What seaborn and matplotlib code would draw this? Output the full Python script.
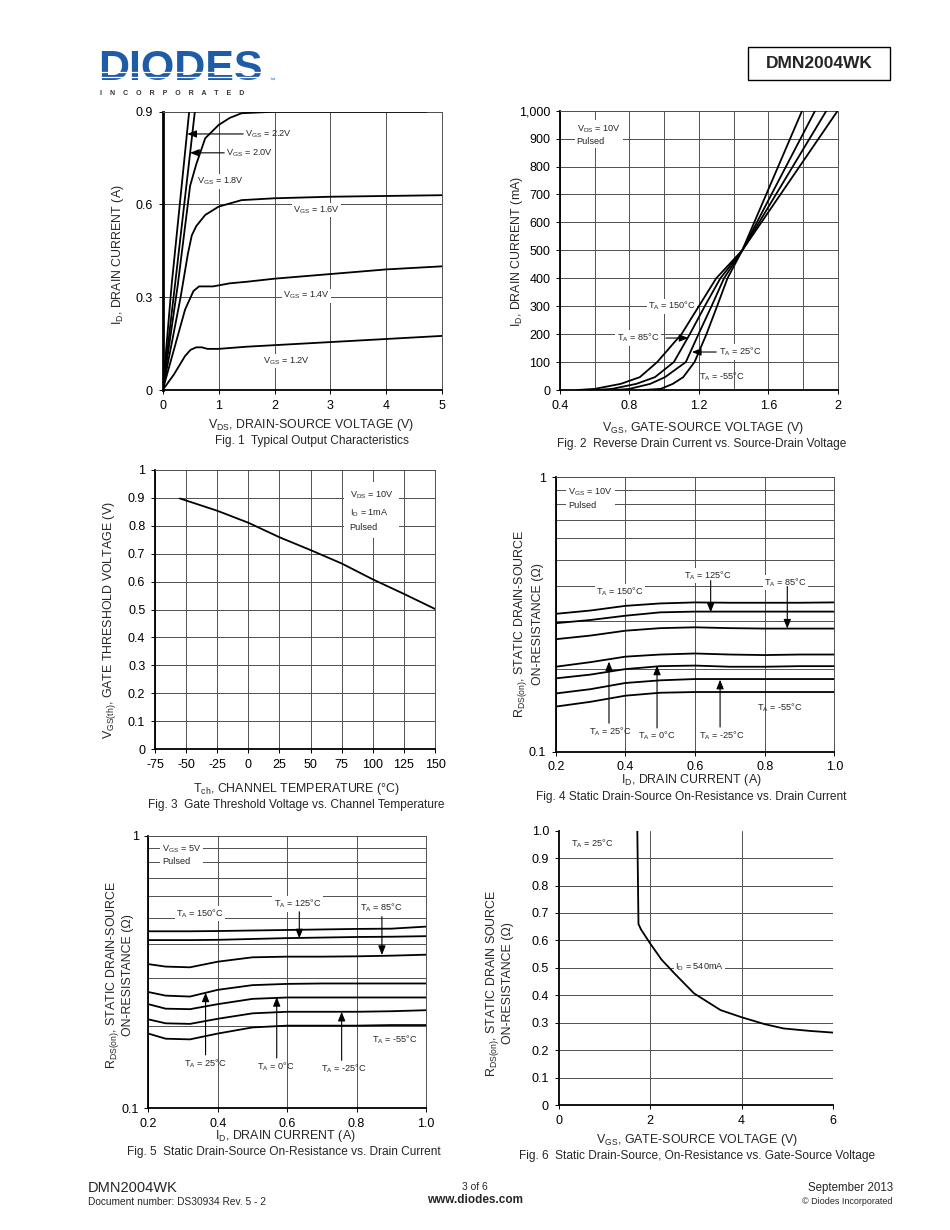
import matplotlib
matplotlib.use("Agg")
import matplotlib.pyplot as plt
import seaborn as sns
import numpy as np
import pandas as pd
from matplotlib.ticker import FixedLocator, NullFormatter

# ---------------- data ----------------
# Fig 1: output characteristics (VDS [V], ID [A])
f1_vds_22 = [0, 0.16, 0.476]
f1_id_22 = [0, 0.34, 0.905]
f1_vds_20 = [0, 0.22, 0.578]
f1_id_20 = [0, 0.34, 0.905]
f1_vds_18 = [0, 0.27, 0.49, 0.6, 0.76, 1.0, 1.2, 1.41, 2.0, 4.72]
f1_id_18 = [0, 0.34, 0.66, 0.73, 0.814, 0.857, 0.88, 0.895, 0.9, 0.9]
f1_vds_16 = [0, 0.32, 0.45, 0.52, 0.6, 0.76, 1.0, 1.41, 2.0, 3.0, 5.0]
f1_id_16 = [0, 0.30, 0.44, 0.50, 0.53, 0.566, 0.593, 0.614, 0.62, 0.625, 0.63]
f1_vds_14 = [0, 0.2, 0.4, 0.55, 0.65, 0.9, 1.2, 1.5, 2.0, 3.0, 4.0, 5.0]
f1_id_14 = [0, 0.13, 0.26, 0.32, 0.335, 0.335, 0.345, 0.35, 0.36, 0.375, 0.39, 0.40]
f1_vds_12 = [0, 0.2, 0.4, 0.5, 0.6, 0.7, 0.8, 1.0, 1.5, 2.0, 3.0, 4.0, 5.0]
f1_id_12 = [0, 0.05, 0.11, 0.13, 0.138, 0.138, 0.133, 0.133, 0.14, 0.145, 0.155, 0.165, 0.175]
f1_labels = ["2.2V", "2.0V", "1.8V", "1.6V", "1.4V", "1.2V"]

# Fig 2: drain current (mA) vs VGS
f2_id = [0, 4, 22, 46, 100, 200, 300, 400, 500, 1000]
f2_vgs_150 = [0.5, 0.6, 0.75, 0.86, 0.96, 1.10, 1.20, 1.30, 1.45, 2.0]
f2_vgs_85 = [0.6, 0.7, 0.84, 0.947, 1.056, 1.148, 1.234, 1.324, 1.45, 1.935]
f2_vgs_25 = [0.72, 0.8, 0.92, 1.005, 1.125, 1.198, 1.273, 1.345, 1.45, 1.87]
f2_vgs_m55 = [0.88, 0.98, 1.05, 1.11, 1.175, 1.244, 1.305, 1.365, 1.45, 1.795]

# Fig 3: gate threshold voltage vs channel temperature
f3_temp = [-55, -25, 0, 25, 50, 75, 100, 125, 150]
f3_vth = [0.898, 0.854, 0.811, 0.759, 0.713, 0.665, 0.608, 0.556, 0.502]

# Fig 4: RDS(on) vs ID, VGS = 10V
f4_id = [0.2, 0.3, 0.4, 0.5, 0.6, 0.7, 0.8, 0.9, 1.0]
f4_r150 = [0.318, 0.327, 0.340, 0.347, 0.350, 0.349, 0.349, 0.349, 0.350]
f4_r125 = [0.294, 0.302, 0.313, 0.322, 0.324, 0.324, 0.324, 0.324, 0.324]
f4_r85 = [0.257, 0.265, 0.276, 0.282, 0.284, 0.282, 0.281, 0.281, 0.281]
f4_r25 = [0.204, 0.212, 0.222, 0.226, 0.228, 0.226, 0.225, 0.226, 0.226]
f4_r0 = [0.185, 0.191, 0.200, 0.205, 0.206, 0.204, 0.204, 0.205, 0.205]
f4_rm25 = [0.163, 0.169, 0.178, 0.182, 0.184, 0.184, 0.184, 0.184, 0.184]
f4_rm55 = [0.146, 0.152, 0.160, 0.164, 0.165, 0.165, 0.165, 0.165, 0.165]

# Fig 5: RDS(on) vs ID, VGS = 5V
f5_id = [0.2, 0.25, 0.32, 0.4, 0.5, 0.6, 0.7, 0.8, 0.9, 1.0]
f5_r150 = [0.446, 0.446, 0.446, 0.447, 0.449, 0.451, 0.453, 0.455, 0.456, 0.464]
f5_r125 = [0.414, 0.414, 0.414, 0.415, 0.418, 0.421, 0.423, 0.425, 0.426, 0.428]
f5_r85 = [0.338, 0.331, 0.329, 0.345, 0.358, 0.360, 0.360, 0.361, 0.363, 0.366]
f5_r25 = [0.267, 0.259, 0.257, 0.272, 0.283, 0.286, 0.287, 0.287, 0.287, 0.287]
f5_r0 = [0.241, 0.232, 0.231, 0.241, 0.252, 0.255, 0.255, 0.255, 0.255, 0.255]
f5_rm25 = [0.212, 0.205, 0.204, 0.213, 0.223, 0.226, 0.226, 0.226, 0.227, 0.229]
f5_rm55 = [0.188, 0.180, 0.179, 0.188, 0.198, 0.201, 0.201, 0.201, 0.202, 0.202]

# Fig 6: RDS(on) vs VGS, ID = 540mA
f6_vgs = [1.72, 1.745, 1.8, 2.0, 2.25, 2.53, 2.96, 3.54, 4.0, 4.5, 4.92, 5.5, 6.0]
f6_r = [1.0, 0.66, 0.64, 0.589, 0.53, 0.48, 0.407, 0.346, 0.32, 0.295, 0.279, 0.27, 0.264]

# ---------------- style ----------------
sns.set_style("ticks")
plt.rcParams["font.family"] = ["Liberation Sans", "DejaVu Sans"]
plt.rcParams["mathtext.fontset"] = "custom"
plt.rcParams["mathtext.rm"] = "Liberation Sans"
plt.rcParams["mathtext.it"] = "Liberation Sans:italic"
plt.rcParams["mathtext.bf"] = "Liberation Sans:bold"
plt.rcParams["axes.unicode_minus"] = False

W, H = 950, 1230
fig = plt.figure(figsize=(W / 100, H / 100), dpi=100)
GRID = "#505050"
TICK_FS = 9
LAB_FS = 8.9
CAP_FS = 8.6
ANN_FS = 6.6


def fx(px):
    return px / W


def fy(py):
    return 1 - py / H


def add_ax(x0, y0, x1, y1):
    return fig.add_axes([x0 / W, 1 - y1 / H, (x1 - x0) / W, (y1 - y0) / H])


def style(ax, frame=True):
    for s in ["left", "bottom"]:
        ax.spines[s].set_color("black")
        ax.spines[s].set_linewidth(1.3)
    for s in ["top", "right"]:
        ax.spines[s].set_visible(frame)
        ax.spines[s].set_color(GRID)
        ax.spines[s].set_linewidth(0.7)
    ax.tick_params(axis="both", which="major", labelsize=TICK_FS, length=3,
                   width=0.7, direction="out", pad=4, colors="black")
    ax.tick_params(axis="both", which="minor", length=0)
    ax.set_xlabel("")
    ax.set_ylabel("")


def curve(ax, x, y):
    sns.lineplot(x=x, y=y, ax=ax, color="black", lw=1.3, sort=False,
                 estimator=None, legend=False, zorder=3)


def label(ax, x, y, s, ha="center", fs=ANN_FS, box=True, va="center"):
    kw = {}
    if box:
        kw["bbox"] = dict(facecolor="white", edgecolor="none", pad=1.0)
    ax.text(x, y, s, ha=ha, va=va, fontsize=fs, zorder=2, **kw)


def arrow(ax, tail, head):
    ax.annotate("", xy=head, xytext=tail,
                arrowprops=dict(arrowstyle="-|>,head_length=0.55,head_width=0.22",
                                color="black", lw=0.8, shrinkA=0, shrinkB=0),
                zorder=6)


def ftext(px, py, s, fs, rot=0, ha="center", va="center", **kw):
    fig.text(fx(px), fy(py), s, fontsize=fs, rotation=rot, ha=ha, va=va,
             multialignment="center", **kw)


# ---------------- Fig 1 ----------------
ax1 = add_ax(162.7, 111.7, 442.3, 390)
for xv, yv in [(f1_vds_22, f1_id_22), (f1_vds_20, f1_id_20), (f1_vds_18, f1_id_18),
               (f1_vds_16, f1_id_16), (f1_vds_14, f1_id_14), (f1_vds_12, f1_id_12)]:
    curve(ax1, xv, yv)
ax1.set_xlim(0, 5)
ax1.set_ylim(0, 0.9)
ax1.set_xticks([0, 1, 2, 3, 4, 5])
ax1.set_yticks([0, 0.3, 0.6, 0.9])
ax1.set_yticklabels(["0", "0.3", "0.6", "0.9"])
ax1.grid(True, color=GRID, lw=0.7)
style(ax1)
ax1.spines["left"].set_linewidth(2.0)
label(ax1, 1.47, 0.828, r"V$_{\mathrm{GS}}$ = " + f1_labels[0], ha="left", box=False)
arrow(ax1, (1.44, 0.828), (0.44, 0.828))
label(ax1, 1.13, 0.767, r"V$_{\mathrm{GS}}$ = " + f1_labels[1], ha="left", box=False)
arrow(ax1, (1.10, 0.767), (0.49, 0.767))
label(ax1, 1.03, 0.674, r"V$_{\mathrm{GS}}$ = " + f1_labels[2])
label(ax1, 2.75, 0.582, r"V$_{\mathrm{GS}}$ = " + f1_labels[3])
label(ax1, 2.57, 0.305, r"V$_{\mathrm{GS}}$ = " + f1_labels[4])
label(ax1, 2.22, 0.094, r"V$_{\mathrm{GS}}$ = " + f1_labels[5])
ftext(118, 255, r"I$_{\mathrm{D}}$, DRAIN CURRENT (A)", LAB_FS, rot=90)
ftext(311, 425, r"V$_{\mathrm{DS}}$, DRAIN-SOURCE VOLTAGE (V)", LAB_FS)
ftext(312, 441, "Fig. 1  Typical Output Characteristics", CAP_FS)

# ---------------- Fig 2 ----------------
ax2 = add_ax(560, 110.7, 837.7, 390)
for xv in [f2_vgs_150, f2_vgs_85, f2_vgs_25, f2_vgs_m55]:
    curve(ax2, xv, f2_id)
ax2.set_xlim(0.4, 2.0)
ax2.set_ylim(0, 1000)
ax2.set_xticks([0.4, 0.8, 1.2, 1.6, 2.0])
ax2.set_xticklabels(["0.4", "0.8", "1.2", "1.6", "2"])
ax2.xaxis.set_minor_locator(FixedLocator([0.6, 1.0, 1.4, 1.8]))
ax2.set_yticks(list(range(0, 1001, 100)))
ax2.set_yticklabels([f"{v:,}" for v in range(0, 1001, 100)])
ax2.grid(True, which="both", color=GRID, lw=0.7)
style(ax2)
ax2.text(0.06, 0.955, r"V$_{\mathrm{DS}}$ = 10V" + "\nPulsed", transform=ax2.transAxes,
         ha="left", va="top", fontsize=ANN_FS, linespacing=1.3, zorder=2,
         bbox=dict(facecolor="white", edgecolor="none", pad=1.5))
label(ax2, 1.045, 300, r"T$_{\mathrm{A}}$ = 150°C")
label(ax2, 0.85, 186, r"T$_{\mathrm{A}}$ = 85°C")
arrow(ax2, (1.01, 186), (1.14, 186))
label(ax2, 1.44, 136, r"T$_{\mathrm{A}}$ = 25°C")
arrow(ax2, (1.30, 136), (1.16, 136))
label(ax2, 1.33, 47, r"T$_{\mathrm{A}}$ = -55°C", box=False)
ftext(517, 252, r"I$_{\mathrm{D}}$, DRAIN CURRENT (mA)", LAB_FS, rot=90)
ftext(703, 428, r"V$_{\mathrm{GS}}$, GATE-SOURCE VOLTAGE (V)", LAB_FS)
ftext(702, 444, "Fig. 2  Reverse Drain Current vs. Source-Drain Voltage", CAP_FS)

# ---------------- Fig 3 ----------------
ax3 = add_ax(155, 470, 435, 749)
curve(ax3, f3_temp, f3_vth)
ax3.set_xlim(-75, 150)
ax3.set_ylim(0, 1)
ax3.set_xticks(list(range(-75, 151, 25)))
ax3.set_yticks([i / 10 for i in range(11)])
ax3.set_yticklabels(["0"] + [f"0.{i}" for i in range(1, 10)] + ["1"])
ax3.grid(True, color=GRID, lw=0.7)
style(ax3)
ax3.text(0.695, 0.93, r"V$_{\mathrm{DS}}$ = 10V" + "\n" + r"I$_{\mathrm{D}}$ = 1mA" + "\nPulsed",
         transform=ax3.transAxes, ha="left", va="top", fontsize=ANN_FS,
         linespacing=1.6, zorder=2,
         bbox=dict(facecolor="white", edgecolor="none", pad=4))
ftext(110, 620, r"V$_{\mathrm{GS(th)}}$, GATE THRESHOLD VOLTAGE (V)", LAB_FS, rot=90)
ftext(296, 789, r"T$_{\mathrm{ch}}$, CHANNEL TEMPERATURE (°C)", LAB_FS)
ftext(296, 805, "Fig. 3  Gate Threshold Voltage vs. Channel Temperature", CAP_FS)


# ---------------- Fig 4 & 5 helpers ----------------
def log_axes(ax):
    ax.set_yscale("log")
    ax.set_ylim(0.1, 1)
    ax.set_xlim(0.2, 1.0)
    ax.set_xticks([0.2, 0.4, 0.6, 0.8, 1.0])
    ax.set_xticklabels(["0.2", "0.4", "0.6", "0.8", "1.0"])
    ax.yaxis.set_major_locator(FixedLocator([0.1, 1]))
    ax.set_yticklabels(["0.1", "1"])
    ax.yaxis.set_minor_locator(FixedLocator([i / 10 for i in range(2, 10)]))
    ax.yaxis.set_minor_formatter(NullFormatter())
    ax.grid(True, which="major", color=GRID, lw=0.7)
    ax.grid(True, which="minor", axis="y", color=GRID, lw=0.7)
    style(ax)


TA = r"T$_{\mathrm{A}}$ = "

# ---------------- Fig 4 ----------------
ax4 = add_ax(555.7, 477.3, 834.3, 751.7)
for rv in [f4_r150, f4_r125, f4_r85, f4_r25, f4_r0, f4_rm25, f4_rm55]:
    curve(ax4, f4_id, rv)
log_axes(ax4)
ax4.text(0.045, 0.965, r"V$_{\mathrm{GS}}$ = 10V" + "\nPulsed", transform=ax4.transAxes,
         ha="left", va="top", fontsize=ANN_FS, linespacing=1.3, zorder=2,
         bbox=dict(facecolor="white", edgecolor="none", pad=1.5))
label(ax4, 0.385, 0.383, TA + "150°C")
label(ax4, 0.638, 0.438, TA + "125°C")
arrow(ax4, (0.645, 0.42), (0.645, 0.322))
label(ax4, 0.86, 0.414, TA + "85°C")
arrow(ax4, (0.865, 0.40), (0.865, 0.281))
label(ax4, 0.356, 0.118, TA + "25°C", box=False)
arrow(ax4, (0.353, 0.127), (0.353, 0.213))
label(ax4, 0.491, 0.114, TA + "0°C", box=False)
arrow(ax4, (0.491, 0.122), (0.491, 0.206))
label(ax4, 0.677, 0.114, TA + "-25°C", box=False)
arrow(ax4, (0.672, 0.123), (0.672, 0.183))
label(ax4, 0.844, 0.145, TA + "-55°C", box=False)
ftext(528, 624, r"R$_{\mathrm{DS(on)}}$, STATIC DRAIN-SOURCE" + "\nON-RESISTANCE (Ω)",
      LAB_FS, rot=90, linespacing=1.25)
ftext(691, 780, r"I$_{\mathrm{D}}$, DRAIN CURRENT (A)", LAB_FS)
ftext(691, 797, "Fig. 4 Static Drain-Source On-Resistance vs. Drain Current", CAP_FS)

# ---------------- Fig 5 ----------------
ax5 = add_ax(148.3, 835.7, 426, 1108.3)
for rv in [f5_r150, f5_r125, f5_r85, f5_r25, f5_r0, f5_rm25, f5_rm55]:
    curve(ax5, f5_id, rv)
log_axes(ax5)
ax5.text(0.05, 0.97, r"V$_{\mathrm{GS}}$ = 5V" + "\nPulsed", transform=ax5.transAxes,
         ha="left", va="top", fontsize=ANN_FS, linespacing=1.3, zorder=2,
         bbox=dict(facecolor="white", edgecolor="none", pad=1.5))
label(ax5, 0.349, 0.519, TA + "150°C")
label(ax5, 0.63, 0.562, TA + "125°C")
arrow(ax5, (0.635, 0.526), (0.635, 0.42))
label(ax5, 0.87, 0.546, TA + "85°C")
arrow(ax5, (0.873, 0.505), (0.873, 0.365))
label(ax5, 0.363, 0.146, TA + "25°C", box=False)
arrow(ax5, (0.365, 0.157), (0.365, 0.266))
label(ax5, 0.568, 0.142, TA + "0°C", box=False)
arrow(ax5, (0.57, 0.153), (0.57, 0.256))
label(ax5, 0.762, 0.140, TA + "-25°C", box=False)
arrow(ax5, (0.757, 0.150), (0.757, 0.226))
label(ax5, 0.91, 0.178, TA + "-55°C", box=False)
ftext(119, 975, r"R$_{\mathrm{DS(on)}}$, STATIC DRAIN-SOURCE" + "\nON-RESISTANCE (Ω)",
      LAB_FS, rot=90, linespacing=1.1)
ftext(285, 1136, r"I$_{\mathrm{D}}$, DRAIN CURRENT (A)", LAB_FS)
ftext(284, 1152, "Fig. 5  Static Drain-Source On-Resistance vs. Drain Current", CAP_FS)

# ---------------- Fig 6 ----------------
ax6 = add_ax(558.7, 830.7, 833, 1105)
curve(ax6, f6_vgs, f6_r)
ax6.set_xlim(0, 6)
ax6.set_ylim(0, 1.0)
ax6.set_xticks([0, 2, 4, 6])
ax6.set_yticks([i / 10 for i in range(11)])
ax6.set_yticklabels(["0"] + [f"{i / 10:.1f}" for i in range(1, 11)])
ax6.xaxis.set_minor_locator(FixedLocator([2, 4]))
ax6.yaxis.set_minor_locator(FixedLocator([i / 10 for i in range(1, 10)]))
ax6.xaxis.remove_overlapping_locs = False
ax6.yaxis.remove_overlapping_locs = False
ax6.grid(False)
ax6.grid(True, which="minor", color=GRID, lw=0.7)
style(ax6, frame=False)
ax6.text(0.045, 0.952, TA + "25°C", transform=ax6.transAxes, ha="left", va="center",
         fontsize=ANN_FS)
label(ax6, 2.55, 0.505, r"I$_{\mathrm{D}}$ = 540mA", ha="left")
ftext(499, 983, r"R$_{\mathrm{DS(on)}}$, STATIC DRAIN SOURCE" + "\nON-RESISTANCE (Ω)",
      LAB_FS, rot=90, linespacing=1.1)
ftext(697, 1140, r"V$_{\mathrm{GS}}$, GATE-SOURCE VOLTAGE (V)", LAB_FS)
ftext(697, 1156, "Fig. 6  Static Drain-Source, On-Resistance vs. Gate-Source Voltage", CAP_FS)

# ---------------- header ----------------
ftext(98, 89, "DIODES", 31, ha="left", va="bottom", fontweight="heavy",
      color="#1f5ca8")
for ly in [72, 76.5, 81]:
    fig.add_artist(plt.Line2D([fx(98), fx(266)], [fy(ly), fy(ly)], color="white",
                              lw=0.9, transform=fig.transFigure, zorder=10))
ftext(270, 82, "™", 4, ha="left", va="baseline", color="#1f5ca8")
ftext(100, 93.5, "I    N    C    O    R    P    O    R    A    T    E    D", 5.0,
      ha="left", va="center", fontweight="bold", color="#333333")
fig.add_artist(plt.Rectangle((fx(748), fy(80)), (890 - 748) / W, 33 / H, fill=False,
                             edgecolor="black", lw=1.0, transform=fig.transFigure))
ftext(819, 64, "DMN2004WK", 12.5, fontweight="bold")

# ---------------- footer ----------------
ftext(88, 1188, "DMN2004WK", 10.5, ha="left")
ftext(88, 1202, "Document number: DS30934 Rev. 5 - 2", 7.3, ha="left")
ftext(475, 1187, "3 of 6", 7.5)
ftext(475, 1200, "www.diodes.com", 8.5, fontweight="bold")
ftext(893, 1188, "September 2013", 8.3, ha="right")
ftext(893, 1201, "© Diodes Incorporated", 6.5, ha="right")

fig.savefig("out.png", dpi=100)
